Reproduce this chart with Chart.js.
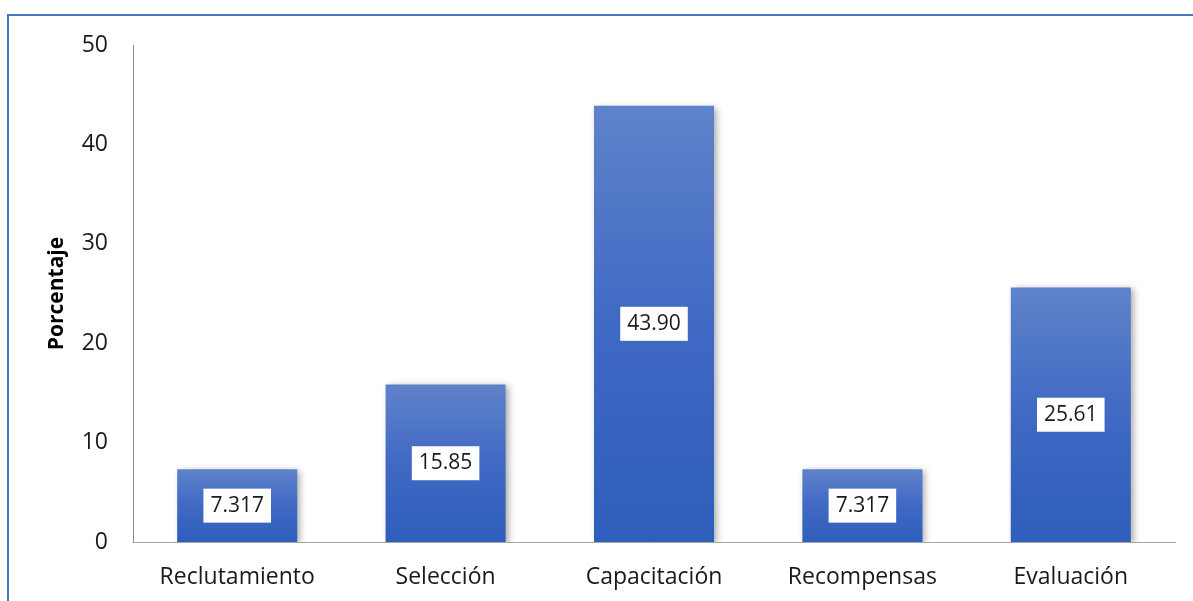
<!DOCTYPE html>
<html>
<head>
<meta charset="utf-8">
<script src="https://cdn.jsdelivr.net/npm/chart.js@4"></script>
<style>
  html, body { margin: 0; padding: 0; background: #fff; }
  #wrap { position: relative; width: 1193px; height: 601px; overflow: hidden; }
  #frame { position: absolute; left: 7px; top: 14px; width: 1300px; height: 700px;
           border-left: 2px solid #4a76c6; border-top: 2px solid #4a76c6; }
  canvas { position: absolute; left: 0; top: 0; }
</style>
</head>
<body>
<div id="wrap">
  <canvas id="myChart" width="1193" height="601"></canvas>
  <div id="frame"></div>
</div>
<script>
const categories = ["Reclutamiento", "Selección", "Capacitación", "Recompensas", "Evaluación"];
const values = [7.317, 15.85, 43.90, 7.317, 25.61];
const valueLabels = ["7.317", "15.85", "43.90", "7.317", "25.61"];
const yTicks = [0, 10, 20, 30, 40, 50];

const fontFamily = "'Open Sans', Lato, sans-serif";

// drop shadow behind the bars
const shadowPlugin = {
  id: "shadow",
  beforeDatasetsDraw(chart) {
    const ctx = chart.ctx;
    ctx.save();
    ctx.shadowColor = "rgba(0,0,0,0.35)";
    ctx.shadowBlur = 7;
    ctx.shadowOffsetX = 3;
    ctx.shadowOffsetY = 2;
  },
  afterDatasetsDraw(chart) {
    chart.ctx.restore();
  }
};

// white boxes with value in the middle of each bar
const labelPlugin = {
  id: "boxLabels",
  afterDatasetsDraw(chart) {
    const ctx = chart.ctx;
    const meta = chart.getDatasetMeta(0);
    ctx.save();
    ctx.font = "21px " + fontFamily;
    ctx.textAlign = "center";
    ctx.textBaseline = "middle";
    meta.data.forEach((bar, i) => {
      const cx = bar.x;
      const cy = (bar.y + bar.base) / 2;
      const w = ctx.measureText(valueLabels[i]).width + 14;
      const h = 34;
      ctx.fillStyle = "#ffffff";
      ctx.fillRect(cx - w / 2, cy - h / 2, w, h);
      ctx.fillStyle = "#1a1a1a";
      ctx.fillText(valueLabels[i], cx, cy);
    });
    ctx.restore();
  }
};

const ctx = document.getElementById("myChart").getContext("2d");
const myChart = new Chart(ctx, {
  type: "bar",
  data: {
    labels: categories,
    datasets: [
      {
        data: values,
        backgroundColor: (c) => {
          const y = c.chart.scales.y;
          if (!y || c.raw == null) return "#4472c4";
          const top = y.getPixelForValue(c.raw);
          const bot = y.getPixelForValue(0);
          if (!isFinite(top) || !isFinite(bot) || top === bot) return "#4472c4";
          const g = c.chart.ctx.createLinearGradient(0, top, 0, bot);
          g.addColorStop(0, "#5f83ca");
          g.addColorStop(0.5, "#4069c4");
          g.addColorStop(1, "#2e5ebc");
          return g;
        },
        borderWidth: 0,
        barPercentage: 0.576,
        categoryPercentage: 1
      }
    ]
  },
  options: {
    responsive: false,
    animation: false,
    layout: { padding: { left: 0, top: 45, right: 18, bottom: 0 } },
    plugins: {
      legend: { display: false },
      tooltip: { enabled: false }
    },
    scales: {
      x: {
        grid: { display: false, drawTicks: false },
        border: { display: true, color: "#a6a6a6", width: 1 },
        ticks: { color: "#1a1a1a", font: { family: fontFamily, size: 23 }, padding: 22, maxRotation: 0 },
        afterFit(scale) { scale.height = 59; }
      },
      y: {
        min: 0,
        max: 50,
        afterBuildTicks(scale) { scale.ticks = yTicks.map(v => ({ value: v })); },
        grid: { display: false, drawTicks: false },
        border: { display: true, color: "#8c8c8c", width: 1 },
        ticks: { color: "#1a1a1a", font: { family: fontFamily, size: 23 }, padding: 25 },
        title: {
          display: true,
          text: "Porcentaje",
          color: "#000000",
          font: { family: fontFamily, size: 21, weight: "bold" },
          padding: { top: 44, bottom: 0 }
        },
        afterFit(scale) { scale.width = 133; }
      }
    }
  },
  plugins: [shadowPlugin, labelPlugin]
});
</script>
</body>
</html>
